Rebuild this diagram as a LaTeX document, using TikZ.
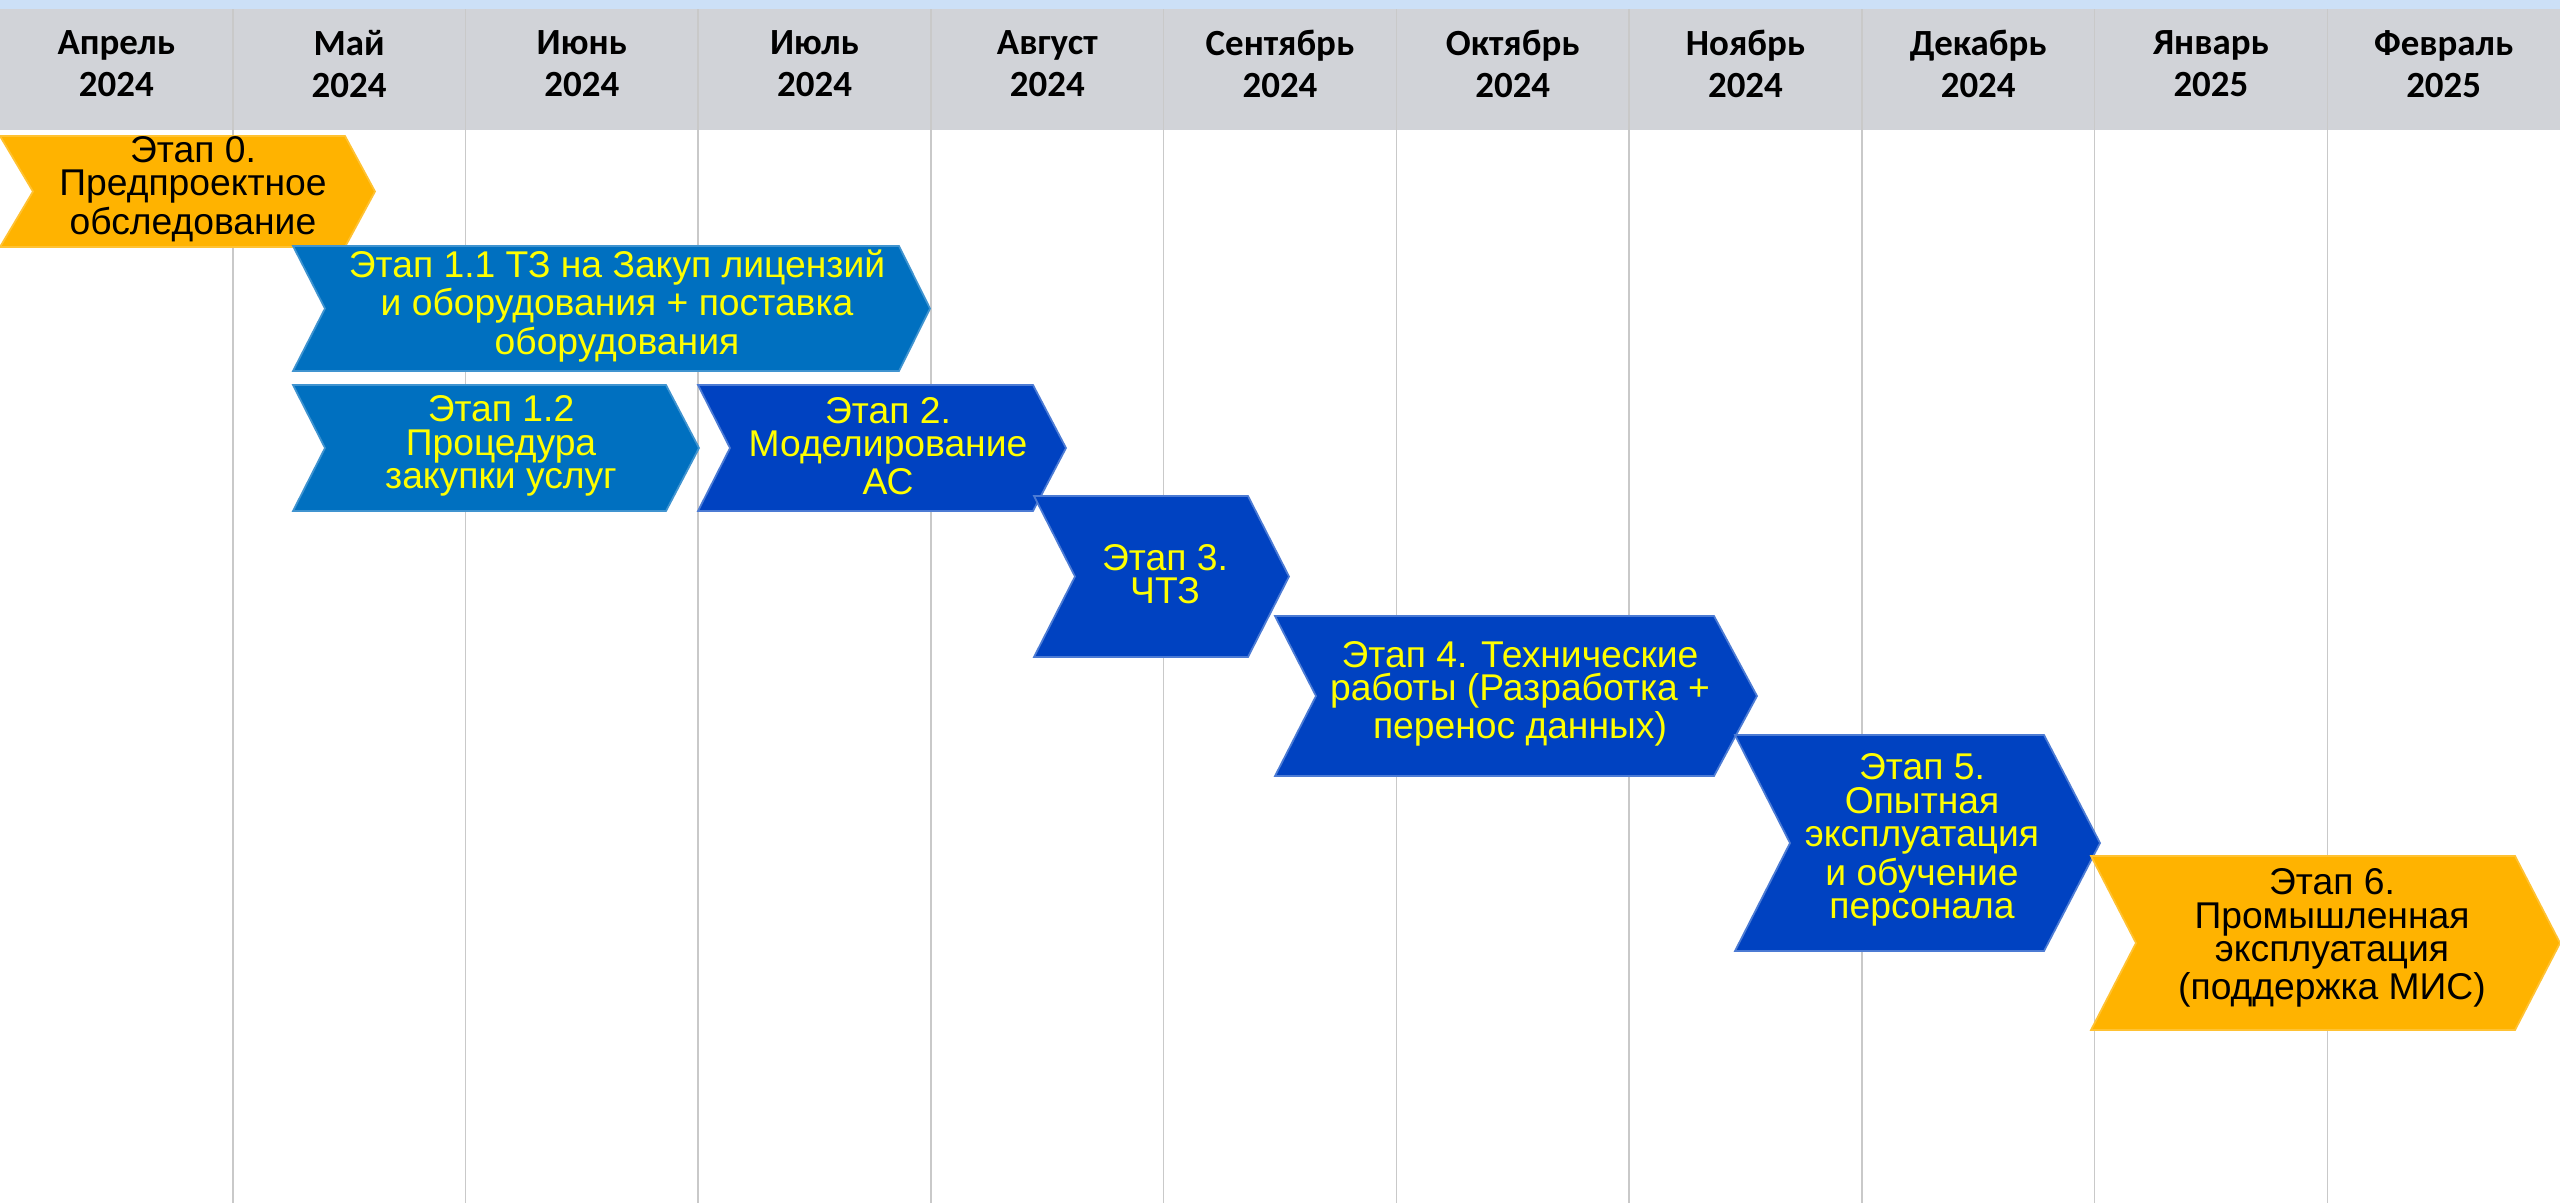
\documentclass[tikz,border=0pt]{standalone}
\usepackage{fontspec}
\setmainfont{Liberation Sans}
\newfontfamily\headfont{Carlito}

\definecolor{bandblue}{HTML}{CCE0F7}
\definecolor{headgray}{HTML}{D1D3D8}
\definecolor{gridgray}{HTML}{C9C9C9}
\definecolor{stageorange}{HTML}{FFB300}
\definecolor{stageblue}{HTML}{0070C0}
\definecolor{stagedark}{HTML}{0042C1}
\definecolor{stageyellow}{HTML}{FFFF00}

\tikzset{
  month/.style={font=\headfont\bfseries\fontsize{10.5}{11.9}\selectfont, align=center, inner sep=0pt},
  stagetext/.style={font=\fontsize{10.6}{9.5}\selectfont, align=center, inner sep=0pt, text=stageyellow},
  orangebox/.style={fill=stageorange, draw=stageorange!80!white, line width=0.5pt},
  bluebox/.style={fill=stageblue, draw=stageblue!75!white, line width=0.5pt},
  darkbox/.style={fill=stagedark, draw=stagedark!70!white, line width=0.5pt}
}

\begin{document}
\begin{tikzpicture}
\useasboundingbox (0,0) rectangle (25.6,-12.03);

% header
\fill[bandblue] (0,0) rectangle (25.6,-0.09);
\fill[headgray] (0,-0.09) rectangle (25.6,-1.30);
\foreach \k in {1,...,10}
  \draw[gridgray, line width=0.45pt] ({\k*25.6/11},-0.09) -- ({\k*25.6/11},-12.03);
\foreach \m/\y [count=\i] in {Апрель/2024, Май/2024, Июнь/2024, Июль/2024, Август/2024,
    Сентябрь/2024, Октябрь/2024, Ноябрь/2024, Декабрь/2024, Январь/2025, Февраль/2025}
  \node[month] (m\i) at ({(\i-0.5)*25.6/11},-0.64) {\m\\\y};

% stage 0
\draw[orangebox] (0,-1.36) -- (3.45,-1.36) -- (3.75,-1.915) -- (3.45,-2.47) -- (0,-2.47) -- (0.33,-1.915) -- cycle;
\node[stagetext, text=black] (st0) at (1.93,-1.89) {Этап 0.\\Предпроектное\\обследование};

% stage 1.1
\draw[bluebox] (2.93,-2.46) -- (8.99,-2.46) -- (9.30,-3.085) -- (8.99,-3.71) -- (2.93,-3.71) -- (3.25,-3.085) -- cycle;
\node[stagetext] (st11) at (6.17,-3.06) {Этап 1.1 ТЗ на Закуп лицензий\\и оборудования + поставка\\оборудования};

% stage 1.2
\draw[bluebox] (2.93,-3.85) -- (6.66,-3.85) -- (6.99,-4.48) -- (6.66,-5.11) -- (2.93,-5.11) -- (3.25,-4.48) -- cycle;
\node[stagetext] (st12) at (5.01,-4.46) {Этап 1.2\\Процедура\\закупки услуг};

% stage 2
\draw[darkbox] (6.98,-3.85) -- (10.33,-3.85) -- (10.66,-4.48) -- (10.33,-5.11) -- (6.98,-5.11) -- (7.30,-4.48) -- cycle;
\node[stagetext] (st2) at (8.88,-4.46) {Этап 2.\\Моделирование\\АС};

% stage 3
\draw[darkbox] (10.34,-4.96) -- (12.48,-4.96) -- (12.89,-5.765) -- (12.48,-6.57) -- (10.34,-6.57) -- (10.75,-5.765) -- cycle;
\node[stagetext] (st3) at (11.65,-5.74) {Этап 3.\\ЧТЗ};

% stage 4
\draw[darkbox] (12.75,-6.16) -- (17.14,-6.16) -- (17.57,-6.96) -- (17.14,-7.76) -- (12.75,-7.76) -- (13.16,-6.96) -- cycle;
\node[stagetext] (st4) at (15.20,-6.94) {Этап 4. Технические\\работы (Разработка +\\перенос данных)};

% stage 5
\draw[darkbox] (17.35,-7.35) -- (20.44,-7.35) -- (21.00,-8.43) -- (20.44,-9.51) -- (17.35,-9.51) -- (17.90,-8.43) -- cycle;
\node[stagetext] (st5) at (19.22,-8.40) {Этап 5.\\Опытная\\эксплуатация\\и обучение\\персонала};

% stage 6
\draw[orangebox] (20.91,-8.56) -- (25.15,-8.56) -- (25.60,-9.43) -- (25.15,-10.30) -- (20.91,-10.30) -- (21.36,-9.43) -- cycle;
\node[stagetext, text=black] (st6) at (23.32,-9.38) {Этап 6.\\Промышленная\\эксплуатация\\(поддержка МИС)};
\end{tikzpicture}
\end{document}
